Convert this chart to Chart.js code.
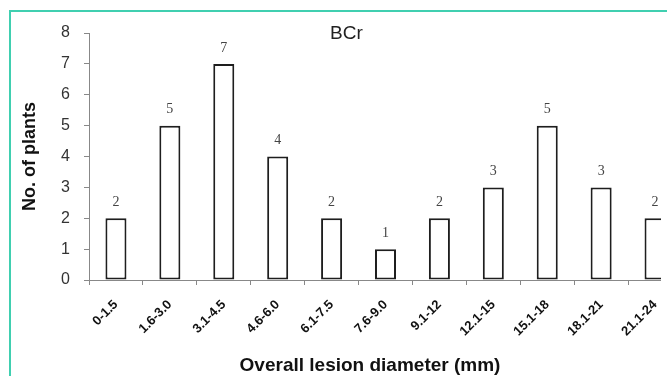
<!DOCTYPE html>
<html>
<head>
<meta charset="utf-8">
<script src="https://cdn.jsdelivr.net/npm/chart.js@4/dist/chart.umd.min.js"></script>
<style>
  html, body { margin: 0; padding: 0; background: #fff; overflow: hidden; }
  #clip { position: absolute; left: 0; top: 0; width: 661px; height: 376px; overflow: hidden; }
  #wrap { position: absolute; left: 0; top: 0; width: 700px; height: 376px; }
  #frame { position: absolute; left: 9px; top: 10px; width: 700px; height: 400px;
           border-left: 2px solid #40cfb0; border-top: 2px solid #40cfb0; pointer-events: none; }
</style>
</head>
<body>
<div id="clip"><div id="wrap"><canvas id="chart"></canvas></div></div>
<div id="frame"></div>
<script>
const categories = ['0-1.5', '1.6-3.0', '3.1-4.5', '4.6-6.0', '6.1-7.5', '7.6-9.0', '9.1-12', '12.1-15', '15.1-18', '18.1-21', '21.1-24'];
const plantCounts = [2, 5, 7, 4, 2, 1, 2, 3, 5, 3, 2];
const yTicks = [0, 1, 2, 3, 4, 5, 6, 7, 8];

const chartEl = document.getElementById('chart');

// value labels above bars + the loose texts
const extraText = {
    id: 'extraText',
    afterDatasetsDraw(chart) {
        const ctx = chart.ctx;
        const meta = chart.getDatasetMeta(0);
        ctx.save();
        ctx.fillStyle = '#444';
        ctx.font = '14px "Liberation Serif", serif';
        ctx.textAlign = 'center';
        ctx.textBaseline = 'middle';
        meta.data.forEach((bar, i) => {
            ctx.fillText(plantCounts[i], bar.x, bar.y - 16);
        });

        ctx.fillStyle = '#222';
        ctx.font = '19px "Liberation Sans", Arial, sans-serif';
        ctx.textAlign = 'left';
        ctx.fillText('BCr', 330, 34);

        ctx.fillStyle = '#111';
        ctx.font = 'bold 19px "Liberation Sans", Arial, sans-serif';
        ctx.textAlign = 'center';
        ctx.fillText('Overall lesion diameter (mm)', 370, 366);
        ctx.restore();
    }
};

new Chart(chartEl, {
    type: 'bar',
    data: {
        labels: categories,
        datasets: [{
            data: plantCounts,
            backgroundColor: '#fff',
            borderColor: '#1e1e1e',
            borderWidth: 2,
            borderSkipped: false,
            barPercentage: 0.39,
            categoryPercentage: 1
        }]
    },
    options: {
        responsive: true,
        maintainAspectRatio: false,
        animation: false,
        layout: { padding: { top: 33, right: 18, left: 0, bottom: 0 } },
        plugins: {
            legend: { display: false },
            tooltip: { enabled: false }
        },
        scales: {
            x: {
                grid: { offset: true, drawOnChartArea: false, tickLength: 5, color: '#888' },
                border: { color: '#888', width: 1 },
                ticks: {
                    autoSkip: false,
                    maxRotation: 45,
                    minRotation: 45,
                    padding: 12,
                    color: '#111',
                    font: { family: '"Liberation Sans", Arial, sans-serif', size: 13, weight: 'bold' }
                },
                afterFit: scale => { scale.height = 96; }
            },
            y: {
                min: 0,
                max: 8,
                afterBuildTicks: scale => { scale.ticks = yTicks.map(v => ({ value: v })); },
                grid: { drawOnChartArea: false, tickLength: 5, color: '#888' },
                border: { color: '#888', width: 1 },
                ticks: {
                    padding: 14,
                    color: '#333',
                    font: { family: '"Liberation Sans", Arial, sans-serif', size: 16 }
                },
                title: {
                    display: true,
                    text: 'No. of plants',
                    color: '#111',
                    padding: { top: 19, bottom: 0 },
                    font: { family: '"Liberation Sans", Arial, sans-serif', size: 18, weight: 'bold' }
                },
                afterFit: scale => { scale.width = 89; }
            }
        }
    },
    plugins: [extraText]
});
</script>
</body>
</html>
